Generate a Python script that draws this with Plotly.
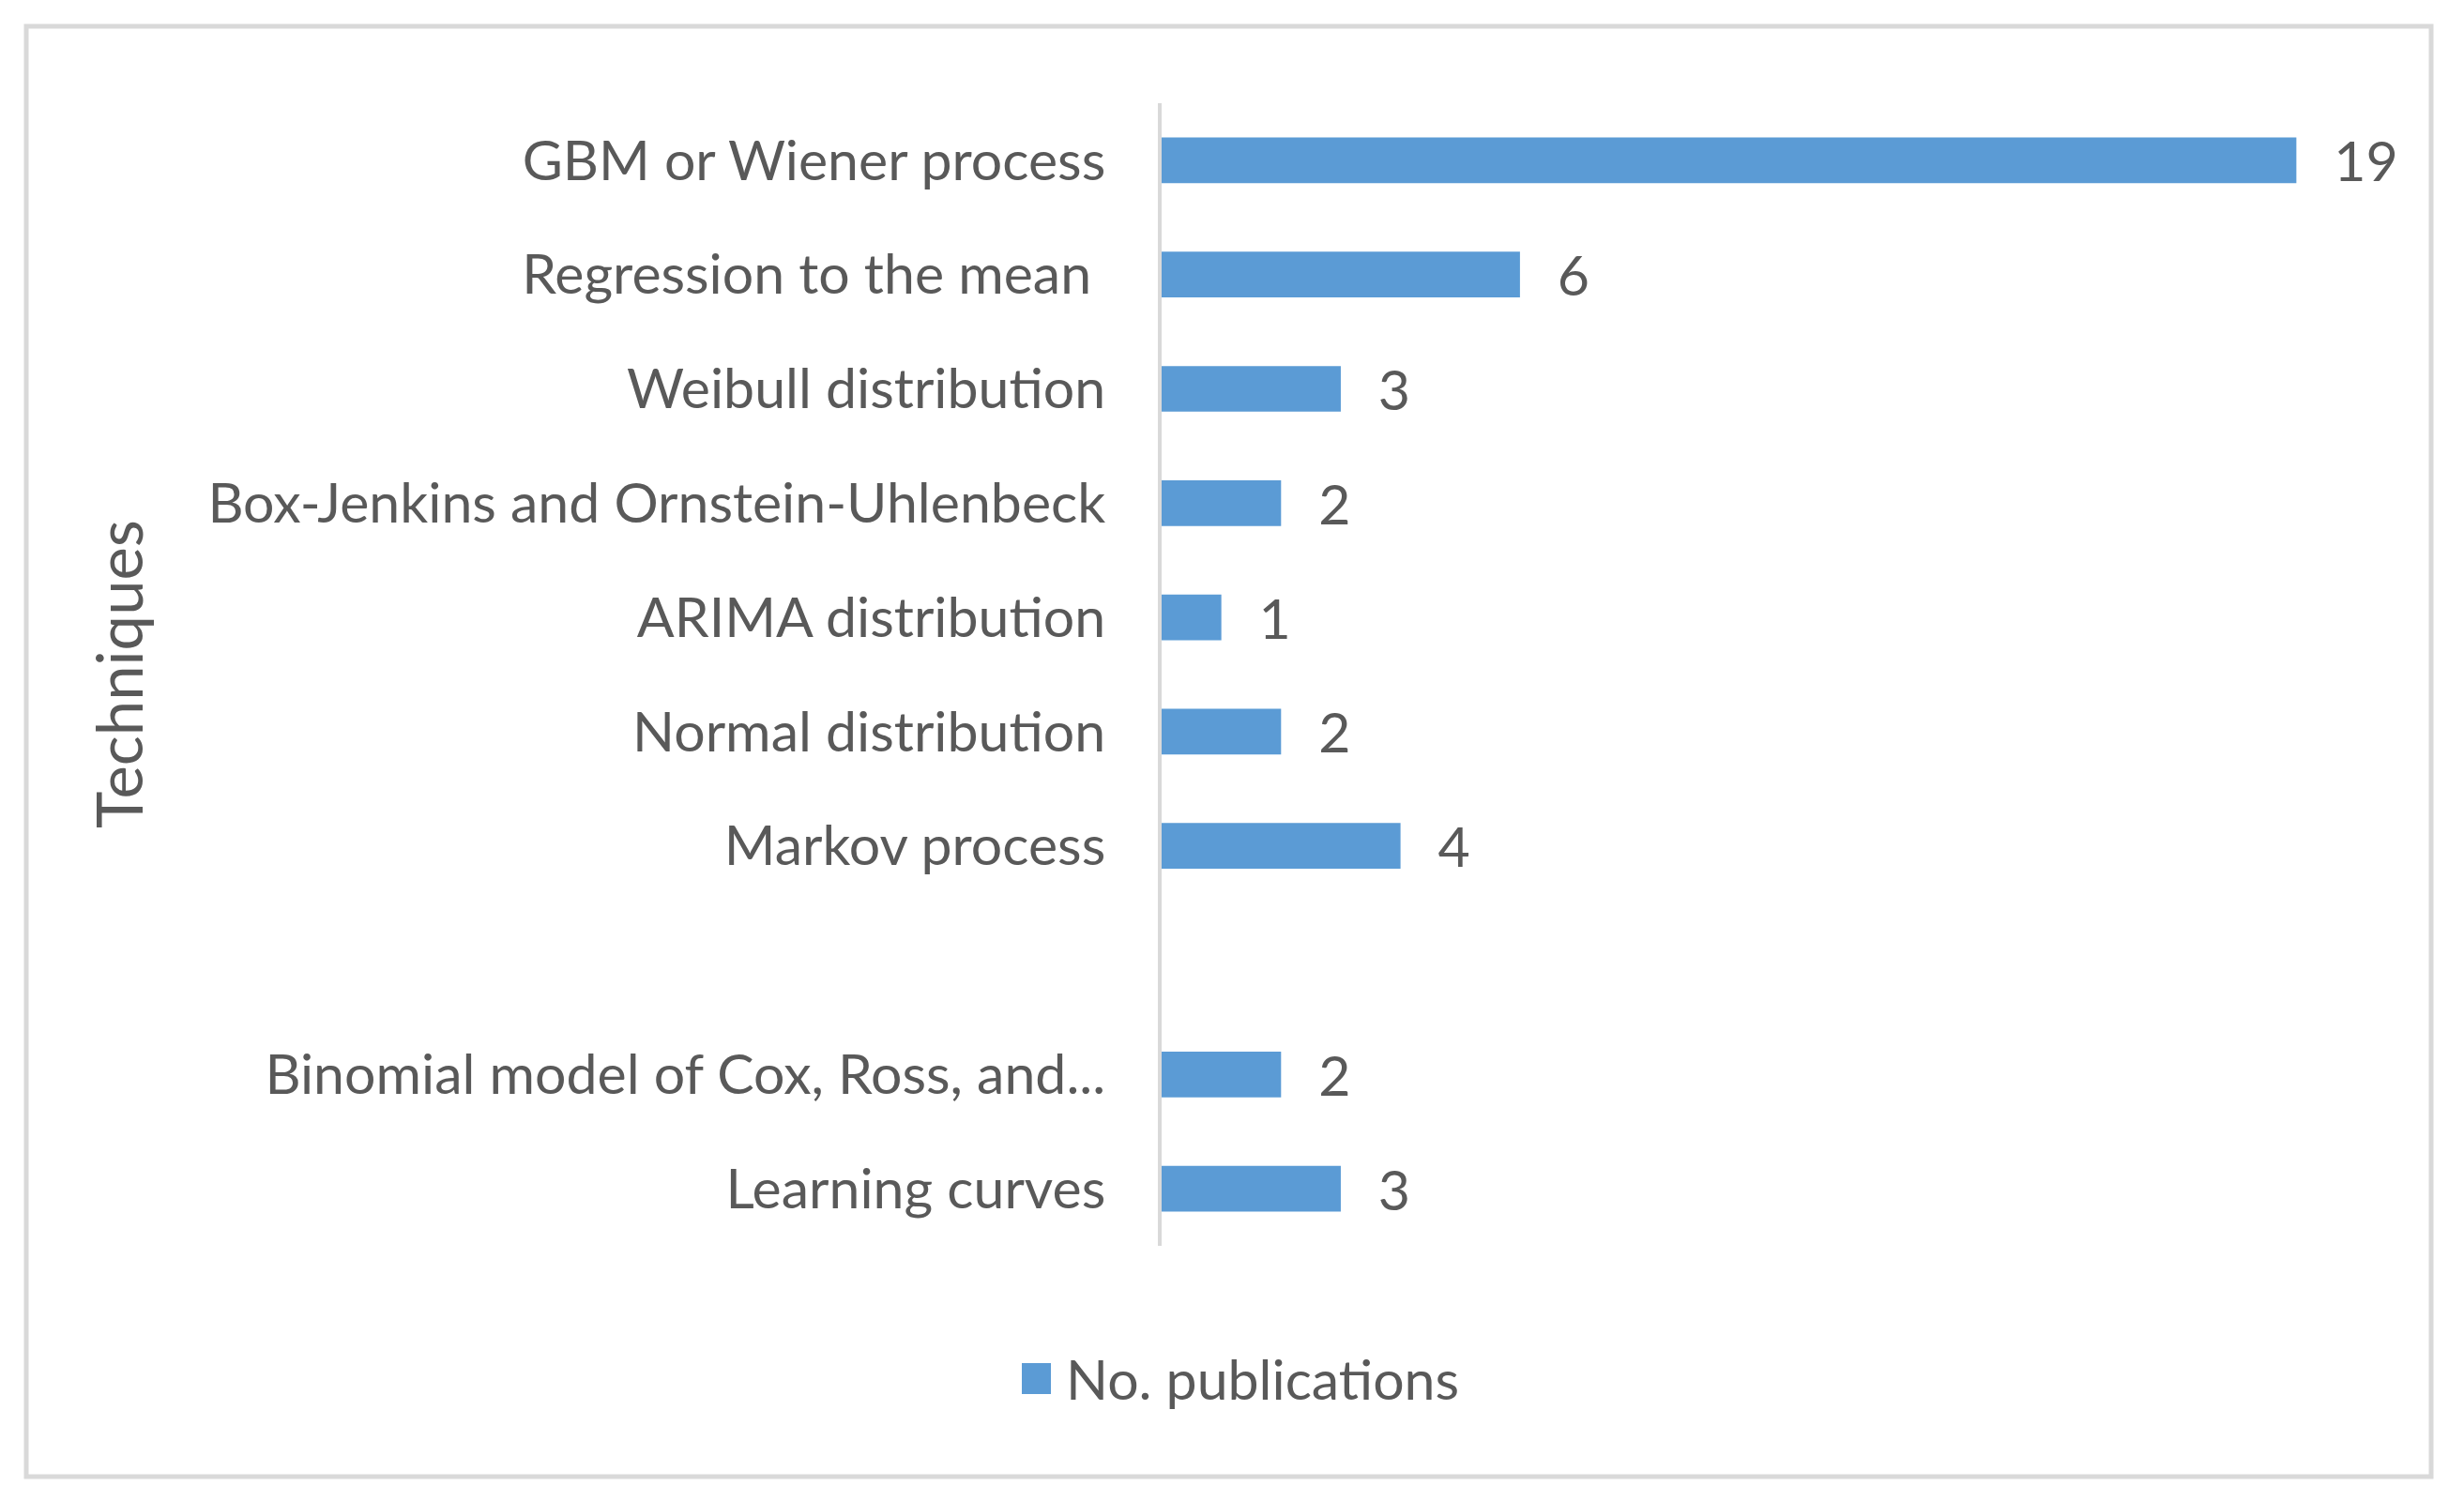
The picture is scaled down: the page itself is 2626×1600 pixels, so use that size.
import plotly.graph_objects as go

# --- data (top to bottom) ---
techniques = [
    "GBM or Wiener process",
    "Regression to the mean ",
    "Weibull distribution",
    "Box-Jenkins and Ornstein-Uhlenbeck",
    "ARIMA distribution",
    "Normal distribution",
    "Markov process",
    " ",
    "Binomial model of Cox, Ross, and...",
    "Learning curves",
]
publications = [19, 6, 3, 2, 1, 2, 4, None, 2, 3]

series_name = "No. publications"
axis_title = "Techniques"

# --- styling ---
BAR = "#5B9BD5"
TEXT = "#595959"
GRID = "#D9D9D9"
FONT = "Lato"
FS = 59

W, H = 2626, 1600
OFF = 8  # page body margin
m_l, m_r, m_t, m_b = 1230, 123, 102, 280
pw = W - m_l - m_r
ph = H - m_t - m_b


# page pixel position (as seen in the reference) -> paper coords
def px_x(x):
    return (x - OFF - m_l) / pw


def px_y(y):
    return (H - m_b - (y - OFF)) / ph


fig = go.Figure()
fig.add_trace(go.Bar(
    y=techniques,
    x=publications,
    orientation="h",
    name=series_name,
    showlegend=False,
    marker=dict(color=BAR, line=dict(width=0)),
    texttemplate="\u2002\u2009%{x}",
    textposition="outside",
    constraintext="none",
    cliponaxis=False,
    textfont=dict(family=FONT, size=FS, color=TEXT),
))

# outer chart border
fig.add_shape(
    type="rect", xref="paper", yref="paper",
    x0=px_x(28), x1=px_x(2591), y0=px_y(1574), y1=px_y(28),
    line=dict(color=GRID, width=5), fillcolor="rgba(0,0,0,0)", layer="below",
)

# rotated axis title
fig.add_annotation(
    text=axis_title, xref="paper", yref="paper",
    x=px_x(126), y=0.5, xanchor="center", yanchor="middle",
    textangle=-90, showarrow=False,
    font=dict(family=FONT, size=67, color=TEXT),
)

# legend (Excel-style big square key)
fig.add_shape(
    type="rect", xref="paper", yref="paper",
    x0=px_x(1089), x1=px_x(1120), y0=px_y(1486), y1=px_y(1453),
    line=dict(width=0), fillcolor=BAR,
)
fig.add_annotation(
    text=series_name, xref="paper", yref="paper",
    x=px_x(1134), y=px_y(1469), xanchor="left", yanchor="middle",
    showarrow=False, font=dict(family=FONT, size=FS, color=TEXT),
)

fig.update_layout(
    width=W, height=H,
    margin=dict(l=m_l, r=m_r, t=m_t, b=m_b),
    paper_bgcolor="white", plot_bgcolor="white",
    bargap=0.6,
    font=dict(family=FONT, size=FS, color=TEXT),
    showlegend=False,
    xaxis=dict(range=[0, 20], visible=False, fixedrange=True),
    yaxis=dict(
        categoryorder="array", categoryarray=techniques, autorange="reversed",
        showline=True, linecolor=GRID, linewidth=4,
        showgrid=False, ticks="", ticklabelstandoff=44,
        tickfont=dict(family=FONT, size=FS, color=TEXT),
    ),
)

fig.write_html("out.html")
